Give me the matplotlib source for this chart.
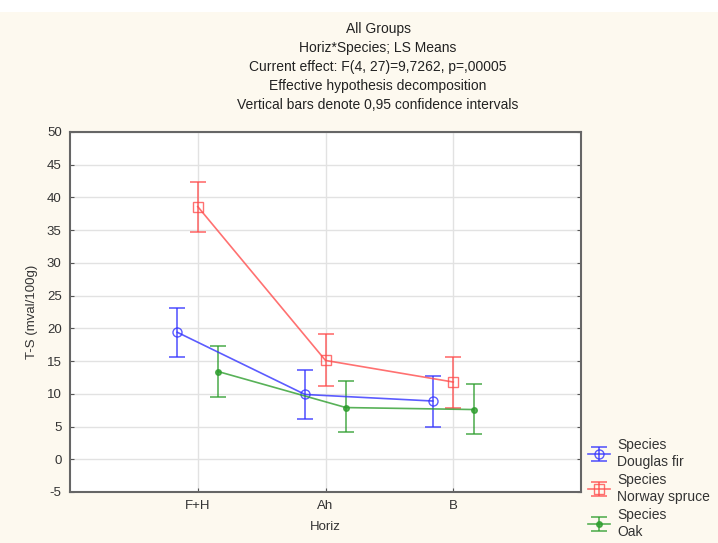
import matplotlib
matplotlib.use("Agg")
import matplotlib.pyplot as plt
from matplotlib.patches import Rectangle
import numpy as np

plt.rcParams["font.family"] = ["Liberation Sans", "DejaVu Sans"]
plt.rcParams["axes.unicode_minus"] = False

categories = ["F+H", "Ah", "B"]
series = ["Douglas fir", "Norway spruce", "Oak"]
means = {
    "Douglas fir": [19.4, 9.9, 8.9],
    "Norway spruce": [38.6, 15.1, 11.8],
    "Oak": [13.4, 7.9, 7.6],
}
lower = {
    "Douglas fir": [15.6, 6.1, 5.0],
    "Norway spruce": [34.7, 11.2, 7.9],
    "Oak": [9.5, 4.1, 3.8],
}
upper = {
    "Douglas fir": [23.1, 13.7, 12.7],
    "Norway spruce": [42.3, 19.1, 15.7],
    "Oak": [17.3, 11.9, 11.5],
}
colors = {"Douglas fir": "#3333ff", "Norway spruce": "#ff4d4d", "Oak": "#2e9e2e"}
markers = {"Douglas fir": "o", "Norway spruce": "s", "Oak": "o"}
mfc = {"Douglas fir": "none", "Norway spruce": "none", "Oak": "#2e9e2e"}
msize = {"Douglas fir": 6.5, "Norway spruce": 6.5, "Oak": 4}
offsets = {"Douglas fir": -0.16, "Norway spruce": 0.0, "Oak": 0.16}
yticks = list(range(-5, 51, 5))

bg = "#fdf9ef"
fig = plt.figure(figsize=(7.18, 5.43), dpi=100, facecolor=bg)
fig.patches.append(Rectangle((0, 1 - 12 / 543), 1, 12 / 543, transform=fig.transFigure,
                             facecolor="white", edgecolor="none", zorder=0))
ax = fig.add_axes([70 / 718, 1 - 492 / 543, (581 - 70) / 718, (492 - 132) / 543])
ax.set_facecolor("white")

x = np.arange(len(categories))
for s in series:
    xs = x + offsets[s]
    m = np.array(means[s])
    lo = m - np.array(lower[s])
    hi = np.array(upper[s]) - m
    ax.errorbar(xs, m, yerr=[lo, hi], color=colors[s], marker=markers[s],
                mfc=mfc[s], mec=colors[s], ms=msize[s], lw=1.2, capsize=6,
                elinewidth=1.2, capthick=1.2, alpha=0.8,
                label="Species\n" + s)

ax.set_xlim(-1, 3)
ax.set_ylim(-5, 50)
ax.set_yticks(yticks)
ax.set_xticks(x)
ax.set_xticklabels(categories)
ax.grid(True, color="#e2e2e2", lw=1)
ax.set_axisbelow(True)
ax.tick_params(direction="in", length=3, labelsize=9.5, colors="#555555",
               labelcolor="#333333", right=True, top=False, pad=6)
for sp in ax.spines.values():
    sp.set_color("#666666")
    sp.set_linewidth(1.5)
ax.set_xlabel("Horiz", fontsize=9.5, color="#333333", labelpad=6)
ax.set_ylabel("T-S (mval/100g)", fontsize=9.5, color="#333333", labelpad=6)

title = ("All Groups\nHoriz*Species; LS Means\nCurrent effect: F(4, 27)=9,7262, p=,00005\n"
         "Effective hypothesis decomposition\nVertical bars denote 0,95 confidence intervals")
fig.text(378 / 718, 1 - 22 / 543, title, ha="center", va="top", fontsize=10,
         color="#222222", linespacing=1.45)

leg = ax.legend(loc="upper left", bbox_to_anchor=(588 / 718, 1 - 438 / 543),
                bbox_transform=fig.transFigure, frameon=False, fontsize=10,
                handlelength=1.6, handletextpad=0.5, labelspacing=0.3,
                borderaxespad=0, borderpad=0)
for t in leg.get_texts():
    t.set_color("#333333")
    t.set_linespacing(1.25)

fig.savefig("out.png", dpi=100, facecolor=bg)
